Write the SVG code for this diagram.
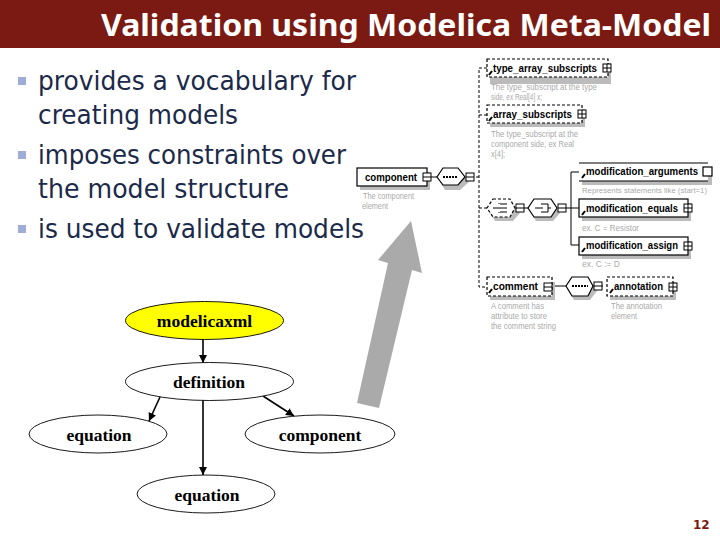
<svg xmlns="http://www.w3.org/2000/svg" width="720" height="540" viewBox="0 0 720 540">
<defs>
<marker id="ah" markerUnits="userSpaceOnUse" markerWidth="10" markerHeight="10" refX="8" refY="4" orient="auto"><path d="M0 0L8 4L0 8Z" fill="#000"/></marker>
<g id="plus"><rect x="-4" y="-4" width="8" height="8" fill="#fff" stroke="#000"/><path d="M-4 0H4M0 -4V4" stroke="#000"/></g>
<g id="minus"><rect x="-4" y="-4" width="8" height="8" fill="#fff" stroke="#000"/><path d="M-4 0H4" stroke="#000"/></g>
<path id="tick" d="M0 0L-3 4" stroke="#000" stroke-width="2" fill="none"/>
<path id="ch" d="M-8 0H-3M-2 -5V-4M-2 -1V1M-2 4V5M-1 -4H6M-1 0H6M-1 4H6" stroke="#000" fill="none"/>
<path id="ch2" d="M-8 0H-2M-1 -5V-3M-1 -1V1M-1 3V5M0 -4H5M0 4H5M5 -4V4M5 0H8" stroke="#000" fill="none"/>
</defs>
<style>
text{font-family:"DejaVu Sans","Liberation Sans",sans-serif}
.title{font-family:"Noto Sans","DejaVu Sans",sans-serif;font-size:30px;font-weight:bold;fill:#fff}
.b{font-size:27px;fill:#1c2a4a}
.bl{fill:#9fadd6}
.n{fill:#fff;stroke:#000;stroke-width:0.9}
.y{fill:#ff0}
.g{font-family:"Liberation Serif","Times New Roman",serif;font-size:17.5px;font-weight:bold;fill:#000;text-anchor:middle}
.c{stroke:#000;stroke-width:1.6;fill:none;marker-end:url(#ah)}
.x{font-family:"Liberation Sans",sans-serif;font-size:10.5px;font-weight:bold;fill:#000}
.d{font-family:"Liberation Sans",sans-serif;font-size:9.5px;fill:#aaa}
.s{fill:#bbb}
.w{fill:#fff;stroke:#000;stroke-width:1.2}
.da{stroke-dasharray:3 2}
.l{stroke:#000;stroke-width:1;fill:none}
</style>
<rect width="720" height="48" fill="#7b1a12"/>
<text class="title" x="101" y="36" textLength="610" lengthAdjust="spacingAndGlyphs">Validation using Modelica Meta-Model</text>
<g id="bullets">
<rect class="bl" x="18" y="77" width="8" height="8"/>
<rect class="bl" x="18" y="151" width="8" height="8"/>
<rect class="bl" x="18" y="225" width="8" height="8"/>
<text class="b" x="38" y="90" textLength="318" lengthAdjust="spacingAndGlyphs">provides a vocabulary for</text>
<text class="b" x="38" y="124" textLength="200" lengthAdjust="spacingAndGlyphs">creating models</text>
<text class="b" x="38" y="164" textLength="308" lengthAdjust="spacingAndGlyphs">imposes constraints over</text>
<text class="b" x="38" y="198" textLength="251" lengthAdjust="spacingAndGlyphs">the model structure</text>
<text class="b" x="38" y="238" textLength="326" lengthAdjust="spacingAndGlyphs">is used to validate models</text>
</g>
<polygon id="big-arrow" points="411,221 422,273 412,270 379,408 357,403 388,263 378,260" fill="#aaa"/>
<g id="schema">
<path class="l da" d="M487 68H479V287H487M479 115H487M479 177H475M479 208H487"/>
<path class="l" d="M427 177H437M524 208H528M566 208H579M571 172V245H579M571 172H579M552 286H566M593 286H603"/>
<rect class="s" x="360" y="172" width="70" height="18"/><rect class="w" x="357" y="168" width="70" height="18"/>
<text class="x" x="365" y="181" textLength="52" lengthAdjust="spacingAndGlyphs">component</text><use href="#minus" x="427" y="177"/>
<text class="d" x="363" y="199" textLength="51" lengthAdjust="spacingAndGlyphs">The component</text><text class="d" x="362" y="209" textLength="26" lengthAdjust="spacingAndGlyphs">element</text>
<polygon class="s" points="445,173 460,173 469,182 460,190 445,190 440,182"/>
<polygon class="w" points="443,168 458,168 465,177 458,185 443,185 437,177"/>
<path d="M443 177H458" stroke="#000" stroke-width="2" stroke-dasharray="2 1"/><use href="#minus" x="470" y="177"/>
<rect class="s" x="490" y="63" width="121" height="21"/><rect class="w da" x="487" y="59" width="121" height="18"/>
<use href="#tick" x="492" y="71"/><text class="x" x="493" y="72" textLength="104" lengthAdjust="spacingAndGlyphs">type_array_subscripts</text><use href="#plus" x="607" y="68"/>
<text class="d" x="491" y="90" textLength="106" lengthAdjust="spacingAndGlyphs">The type_subscript at the type</text><text class="d" x="491" y="100" textLength="51" lengthAdjust="spacingAndGlyphs">side, ex Real[4] x;</text>
<rect class="s" x="490" y="109" width="95" height="18"/><rect class="w da" x="487" y="105" width="95" height="18"/>
<use href="#tick" x="492" y="117"/><text class="x" x="493" y="118" textLength="79" lengthAdjust="spacingAndGlyphs">array_subscripts</text><use href="#plus" x="582" y="114"/>
<text class="d" x="491" y="137" textLength="87" lengthAdjust="spacingAndGlyphs">The type_subscript at the</text><text class="d" x="491" y="147" textLength="83" lengthAdjust="spacingAndGlyphs">component side, ex Real</text><text class="d" x="491" y="157" textLength="14" lengthAdjust="spacingAndGlyphs">x[4];</text>
<polygon class="s" points="495,204 513,204 520,213 513,221 495,221 490,213"/>
<polygon class="w da" points="493,199 510,199 515,208 510,217 493,217 487,208"/>
<use href="#ch" x="501" y="208"/><use href="#minus" x="520" y="208"/>
<polygon class="s" points="536,204 553,204 560,213 553,221 536,221 531,213"/>
<polygon class="w" points="534,199 551,199 557,208 551,217 534,217 528,208"/>
<use href="#ch2" x="543" y="208"/><use href="#minus" x="562" y="208"/>
<rect class="s" x="582" y="167" width="130" height="18"/>
<rect x="579" y="163" width="129" height="18" fill="#fff"/><path class="l" d="M579 163H708M579 181H708"/>
<use href="#tick" x="585" y="174"/><text class="x" x="586" y="175" textLength="112" lengthAdjust="spacingAndGlyphs">modification_arguments</text><rect class="w" x="703" y="167" width="9" height="9"/>
<text class="d" x="582" y="193" font-size="8" style="font-size:8px" textLength="125" lengthAdjust="spacingAndGlyphs">Represents statements like (start=1)</text>
<rect class="s" x="582" y="203" width="109" height="18"/><rect class="w" x="579" y="199" width="109" height="18"/>
<use href="#tick" x="585" y="211"/><text class="x" x="586" y="212" textLength="92" lengthAdjust="spacingAndGlyphs">modification_equals</text><use href="#plus" x="688" y="208"/>
<text class="d" x="582" y="231" textLength="57" lengthAdjust="spacingAndGlyphs">ex. C = Resistor</text>
<rect class="s" x="582" y="241" width="109" height="18"/><rect class="w" x="579" y="237" width="109" height="18"/>
<use href="#tick" x="585" y="248"/><text class="x" x="586" y="249" textLength="92" lengthAdjust="spacingAndGlyphs">modification_assign</text><use href="#plus" x="688" y="246"/>
<text class="d" x="582" y="267" textLength="38" lengthAdjust="spacingAndGlyphs">ex. C := D</text>
<rect class="s" x="490" y="282" width="65" height="18"/><rect class="w da" x="487" y="277" width="65" height="19"/>
<use href="#tick" x="492" y="289"/><text class="x" x="493" y="290" textLength="45" lengthAdjust="spacingAndGlyphs">comment</text><use href="#minus" x="548" y="287"/>
<text class="d" x="491" y="309" textLength="53" lengthAdjust="spacingAndGlyphs">A comment has</text><text class="d" x="491" y="319" textLength="56" lengthAdjust="spacingAndGlyphs">attribute to store</text><text class="d" x="491" y="329" textLength="65" lengthAdjust="spacingAndGlyphs">the comment string</text>
<polygon class="s" points="574,282 590,282 597,291 590,300 574,300 569,291"/>
<polygon class="w" points="572,277 588,277 593,286 588,296 572,296 566,286"/>
<path d="M572 286H588" stroke="#000" stroke-width="2" stroke-dasharray="2 1"/><use href="#minus" x="598" y="286"/>
<rect class="s" x="610" y="282" width="66" height="18"/><rect class="w da" x="607" y="277" width="66" height="19"/>
<use href="#tick" x="613" y="289"/><text class="x" x="614" y="290" textLength="49" lengthAdjust="spacingAndGlyphs">annotation</text><use href="#plus" x="673" y="287"/>
<text class="d" x="611" y="309" textLength="51" lengthAdjust="spacingAndGlyphs">The annotation</text><text class="d" x="611" y="319" textLength="26" lengthAdjust="spacingAndGlyphs">element</text>
</g>
<g id="connectors">
<path class="c" d="M203 339V363"/>
<path class="c" d="M203 400V475"/>
<path class="c" d="M160 397L149 421"/>
<path class="c" d="M263 396L294 416"/>
</g>
<g id="n-modelicaxml"><ellipse class="n y" cx="204.500" cy="320.500" rx="79" ry="19"/><text class="g" x="204.500" y="327">modelicaxml</text></g>
<g id="n-definition"><ellipse class="n" cx="209.500" cy="381.500" rx="84" ry="19"/><text class="g" x="209" y="388">definition</text></g>
<g id="n-equation-left"><ellipse class="n" cx="98" cy="434" rx="69" ry="19"/><text class="g" x="99" y="441">equation</text></g>
<g id="n-component"><ellipse class="n" cx="320" cy="434" rx="75" ry="19"/><text class="g" x="320" y="441">component</text></g>
<g id="n-equation-bottom"><ellipse class="n" cx="206" cy="494" rx="69" ry="19"/><text class="g" x="207" y="501">equation</text></g>
<text x="693" y="529" font-size="12" font-weight="bold" fill="#7b1a12">12</text>
</svg>
